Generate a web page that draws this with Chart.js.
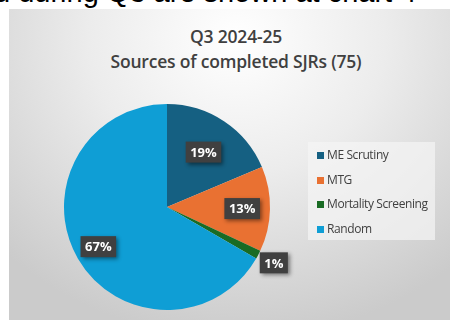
<html>
  <head>
    <meta charset="utf-8">
    <title>Sources of completed SJRs</title>
    <script src="https://cdn.jsdelivr.net/npm/chart.js@4"></script>
    <style>
      body { margin: 0; width: 450px; height: 320px; overflow: hidden; background: #fff; position: relative; }
      #lead { position: absolute; left: -6px; top: -24px; font: 29px "Liberation Sans", Arial, sans-serif; color: #000; white-space: nowrap; }
      #box { position: absolute; left: 9px; top: 9px; width: 445px; height: 320px;
             background: radial-gradient(ellipse 330px 300px at 228px 30px, #ffffff 0%, #ececec 45%, #cbcbcb 100%); }
      #title { position: absolute; left: 0; top: 24px; width: 472px; text-align: center;
               font: 600 17.5px "Open Sans", Lato, sans-serif; color: #404040; line-height: 25px; letter-spacing: -0.2px; }
      #chart { position: absolute; left: 0; top: 0; }
      #legend { position: absolute; left: 308px; top: 142px; width: 127px; height: 98px; background: rgba(245,245,245,0.7); }
      .item { position: absolute; left: 9px; font: 12px "Open Sans", Lato, sans-serif; color: #404040; white-space: nowrap; letter-spacing: -0.4px; }
      .item span { display: inline-block; width: 7px; height: 7px; margin-right: 3px; vertical-align: 0px; }
    </style>
  </head>
  <body>
    <div id="lead">d during Q3 are shown at chart 4</div>
    <div id="box"></div>
    <div id="title">Q3 2024-25<br>Sources of completed SJRs (75)</div>
    <canvas id="chart" width="450" height="320"></canvas>
    <div id="legend"></div>

    <script type="text/javascript">
      // data
      const sources = ["ME Scrutiny", "MTG", "Mortality Screening", "Random"];
      const counts = [14, 10, 1, 50];
      const colours = ['#156082', '#E97132', '#196B24', '#0F9ED5'];
      // how far out each data label sits (fraction of radius)
      const labelRadius = [0.64, 0.73, 1.17, 0.77];

      const total = counts.reduce((a, b) => a + b, 0);

      // html legend built from the arrays
      const legend = document.getElementById('legend');
      sources.forEach((s, i) => {
        const d = document.createElement('div');
        d.className = 'item';
        d.style.top = (4 + i * 24.5) + 'px';
        d.innerHTML = '<span style="background:' + colours[i] + '"></span>' + s;
        legend.appendChild(d);
      });

      const pctLabels = {
        id: 'pctLabels',
        afterDatasetsDraw(chart) {
          const ctx = chart.ctx;
          const meta = chart.getDatasetMeta(0);
          ctx.save();
          ctx.font = 'bold 13px "Open Sans", Lato, sans-serif';
          ctx.textAlign = 'center';
          ctx.textBaseline = 'middle';
          meta.data.forEach((arc, i) => {
            const p = arc.getProps(['x', 'y', 'startAngle', 'endAngle', 'outerRadius'], true);
            const mid = (p.startAngle + p.endAngle) / 2;
            const r = p.outerRadius * labelRadius[i];
            const x = p.x + Math.cos(mid) * r;
            const y = p.y + Math.sin(mid) * r;
            const txt = Math.round(counts[i] / total * 100) + '%';
            const w = ctx.measureText(txt).width + 9;
            const h = 21;
            ctx.shadowColor = 'rgba(0,0,0,0.45)';
            ctx.shadowBlur = 4;
            ctx.shadowOffsetX = 2;
            ctx.shadowOffsetY = 2;
            ctx.fillStyle = '#404040';
            ctx.fillRect(x - w / 2, y - h / 2, w, h);
            ctx.shadowColor = 'transparent';
            ctx.fillStyle = '#ffffff';
            ctx.fillText(txt, x, y + 1);
          });
          ctx.restore();
        }
      };

      const ctx = document.getElementById('chart').getContext('2d');
      const chart = new Chart(ctx, {
        type: 'pie',
        data: {
          labels: sources,
          datasets: [{
            data: counts,
            backgroundColor: colours,
            borderWidth: 0
          }]
        },
        options: {
          responsive: false,
          animation: false,
          layout: { padding: { left: 64, top: 104, right: 180, bottom: 10 } },
          plugins: {
            legend: { display: false },
            tooltip: { enabled: false }
          }
        },
        plugins: [pctLabels]
      });
    </script>
  </body>
</html>
